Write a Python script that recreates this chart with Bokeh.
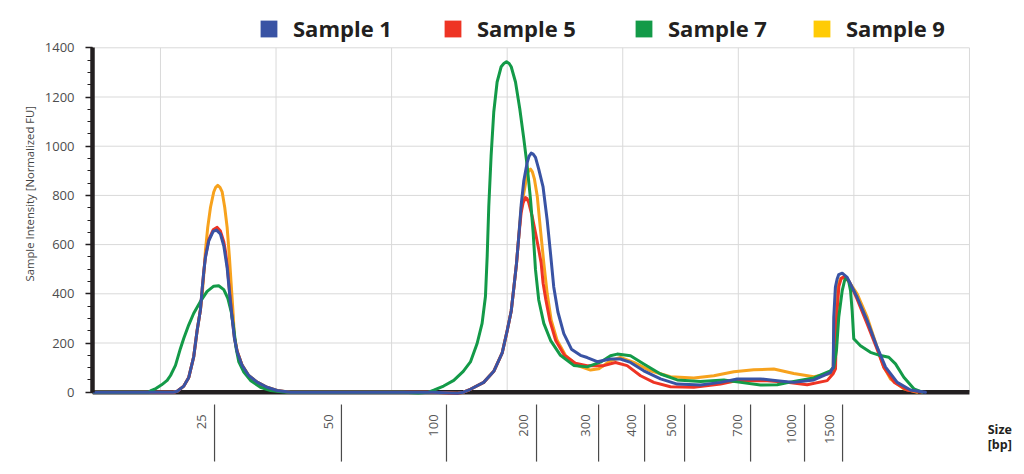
import math
from bokeh.plotting import figure
from bokeh.models import Range1d, FixedTicker, Legend, LegendItem, Title
from bokeh.embed import file_html
from bokeh.resources import INLINE
from bokeh.core.properties import value

# ---------------- data (migration position vs. normalized FU) ----------------
series_names = ["Sample 1", "Sample 5", "Sample 7", "Sample 9"]

x_s1 = [4.12, 11.12, 11.45, 12.02, 12.45, 12.88, 13.17, 13.46, 13.61, 13.75,
        13.89, 14.18, 14.56, 14.85, 15.19, 15.48, 15.77, 15.99, 16.20, 16.40,
        16.64, 17.07, 17.64, 18.37, 19.23, 20.10, 21.25,
        33.65, 35.00, 35.70, 36.22, 36.82, 37.97, 38.84, 39.57, 40.00, 40.35,
        40.59, 40.80, 41.00, 41.21, 41.44, 41.73, 41.90, 42.08, 42.25, 42.45,
        42.73, 43.10,
        43.46, 43.75, 44.03, 44.39, 44.90, 45.56, 46.34, 46.92, 47.79, 48.94,
        49.80, 50.67, 51.82, 53.27, 54.71, 56.73, 58.46, 59.90, 61.92, 63.36,
        64.80, 66.53, 67.97, 68.21, 68.26, 68.40, 68.55, 68.69, 68.99, 69.42,
        70.28, 71.15, 72.01, 72.74, 73.75, 74.90, 76.19]
y_s1 = [0, 0, 4, 25, 60, 145, 250, 335, 420, 490,
        547, 615, 654, 659, 643, 595, 506, 397, 301, 219,
        164, 109, 68, 41, 20, 7, 0,
        0, -3, -4, 0, 12, 40, 85, 160, 250, 330,
        430, 520, 630, 760, 860, 934, 960, 972, 968, 955,
        907, 836,
        700, 564, 428, 326, 238, 175, 150, 141, 124, 135,
        135, 121, 87, 54, 33, 29, 40, 54, 54, 47,
        40, 50, 80, 102, 305, 427, 460, 478, 484, 467,
        386, 291, 183, 102, 40, 9, 0]

x_s5 = [4.12, 11.12, 11.45, 12.02, 12.45, 12.88, 13.17, 13.46, 13.61, 13.75,
        13.89, 14.18, 14.56, 14.91, 15.19, 15.48, 15.62, 15.77, 15.99, 16.20,
        16.40, 16.64, 17.07, 17.64, 18.37, 19.23, 20.10, 21.25,
        33.65, 35.00, 35.70, 36.22, 36.82, 37.97, 38.84, 39.57, 40.00, 40.35,
        40.59, 40.80, 41.00, 41.21, 41.38, 41.58, 41.72, 41.87, 42.16, 42.45,
        42.73,
        42.94, 43.11, 43.35, 43.70, 44.20, 44.95, 45.90, 46.90, 47.49, 48.36,
        49.37, 50.38, 51.54, 52.69, 54.13, 56.15, 58.46, 59.90, 62.50, 64.23,
        65.96, 67.69, 68.20, 68.41, 68.50, 68.70, 68.90, 69.13, 69.60, 70.28,
        71.15, 72.01, 72.60, 73.50, 74.60, 75.90]
y_s5 = [0, 0, 4, 25, 60, 145, 250, 335, 420, 490,
        550, 620, 660, 670, 655, 612, 574, 520, 405, 305,
        222, 165, 108, 66, 40, 19, 6, 0,
        0, -3, -4, 0, 12, 40, 85, 160, 250, 330,
        430, 520, 630, 730, 770, 791, 787, 770, 716, 648,
        580,
        525, 443, 375, 290, 210, 150, 118, 108, 108, 108,
        121, 108, 67, 40, 22, 20, 33, 47, 47, 40,
        30, 47, 75, 95, 300, 430, 462, 470, 450, 378,
        278, 175, 100, 40, 9, 0]

x_s7 = [4.12, 8.96, 9.13, 9.60, 10.10, 10.58, 10.87, 11.30, 11.73, 12.02,
        12.45, 12.88, 13.46, 14.04, 14.61, 15.04, 15.48, 15.82, 16.12, 16.34,
        16.55, 16.78, 17.21, 17.79, 18.65, 19.52, 20.64, 21.25,
        31.00, 32.30, 33.20, 33.65, 34.50, 35.38, 36.20, 36.82, 37.40, 37.83,
        38.12, 38.27, 38.41, 38.61, 38.84, 39.13, 39.48, 39.71, 39.94, 40.17,
        40.35, 40.72,
        41.09, 41.44, 41.73, 42.02, 42.25, 42.45, 42.73, 43.17, 43.75, 44.61,
        45.76, 46.92, 48.07, 48.94, 49.52, 50.67, 51.82, 53.27, 54.71, 56.73,
        58.75, 60.19, 61.92, 63.36, 64.80, 66.53, 67.97, 68.26, 68.49, 68.69,
        68.99, 69.20, 69.36, 69.55, 69.71, 69.85, 69.99, 70.57, 71.43, 72.30,
        73.02, 73.60, 74.32, 75.19, 75.91]
y_s7 = [0, 0, 5, 15, 30, 48, 68, 109, 178, 219,
        274, 321, 369, 410, 431, 433, 417, 383, 328, 260,
        178, 123, 82, 48, 20, 7, 1, 0,
        0, -3, 0, 8, 25, 48, 85, 123, 198, 280,
        389, 552, 757, 961, 1139, 1261, 1323, 1336, 1343, 1336,
        1323, 1261,
        1152, 1030, 920, 784, 648, 498, 375, 280, 211, 150,
        109, 103, 122, 148, 155, 148, 115, 74, 50, 44,
        50, 40, 29, 30, 44, 58, 87, 102, 169, 305,
        413, 455, 467, 450, 413, 332, 217, 189, 162, 149,
        142, 115, 61, 14, 0]

x_s9 = [4.12, 11.12, 11.45, 12.02, 12.45, 12.88, 13.17, 13.46, 13.61, 13.75,
        13.89, 14.09, 14.33, 14.61, 14.78, 14.96, 15.15, 15.34, 15.56, 15.77,
        15.97, 16.12,
        16.26, 16.40, 16.64, 17.07, 17.64, 18.37, 19.23, 20.10, 21.25,
        33.65, 35.00, 35.70, 36.22, 36.82, 37.97, 38.84, 39.57, 40.00, 40.35,
        40.59, 40.80, 41.00, 41.21, 41.50, 41.73, 41.88, 42.02, 42.18, 42.36,
        42.60, 42.88,
        43.17, 43.46, 43.81, 44.32, 45.04, 46.05, 47.21, 47.93, 48.94, 49.80,
        50.96, 52.40, 54.13, 56.15, 57.88, 59.61, 61.34, 63.07, 64.80, 66.53,
        67.97, 68.20, 68.30, 68.55, 68.85, 69.27, 69.70, 70.28, 71.15, 72.01,
        72.59, 73.17, 74.32, 75.48]
y_s9 = [0, 0, 4, 25, 60, 145, 250, 335, 397, 479,
        574, 670, 752, 814, 833, 841, 833, 814, 752, 670,
        547, 438,
        340, 225, 166, 110, 68, 41, 20, 7, 0,
        0, -3, -4, 0, 12, 40, 85, 160, 250, 330,
        430, 520, 630, 750, 825, 886, 902, 907, 896, 866,
        798, 661,
        525, 402, 293, 211, 150, 109, 90, 95, 128, 141,
        121, 87, 63, 58, 67, 83, 91, 94, 76, 63,
        76, 90, 300, 430, 462, 467, 440, 400, 305, 183,
        102, 54, 14, 0]

ladder_labels = ["25", "50", "100", "200", "300", "400", "500", "700", "1000", "1500"]
ladder_pos = [14.68, 25.66, 34.75, 42.54, 47.91, 51.89, 55.35, 61.06, 65.73, 69.02]

y_ticks = [0, 200, 400, 600, 800, 1000, 1200, 1400]
y_minor = list(range(0, 1401, 50))
grid_x = [10, 20, 30, 40, 50, 60, 70, 80]

# ---------------- styles ----------------
line_colors = ["#3953a4", "#ee3424", "#139a48", "#f7a21d"]
legend_colors = ["#3953a4", "#ee3424", "#139a48", "#ffcb05"]
legend_left = [166, 350, 541, 719]   # screen px from the frame's left edge
INK = "#231f20"
GRID = "#d9d9d9"
X0, X1 = 4.12, 80

p = figure(width=1016, height=466,
           x_range=Range1d(4.12, 84.07), y_range=Range1d(-302, 1559.8),
           x_axis_type=None, toolbar_location=None, output_backend="svg",
           min_border_left=92, min_border_right=0, min_border_top=8, min_border_bottom=0,
           title=None)
p.outline_line_color = None
p.background_fill_color = "white"
p.border_fill_color = "white"
p.grid.visible = False

# grid lines (restricted to the data area)
p.segment(x0=grid_x, y0=0, x1=grid_x, y1=1400, line_color=GRID, line_width=1)
p.segment(x0=X0, y0=y_ticks[1:], x1=X1, y1=y_ticks[1:], line_color=GRID, line_width=1)

# baseline
p.segment(x0=[X0], y0=[0], x1=[X1], y1=[0], line_color=INK, line_width=4.5)

curves = {
    "Sample 1": (x_s1, y_s1),
    "Sample 5": (x_s5, y_s5),
    "Sample 7": (x_s7, y_s7),
    "Sample 9": (x_s9, y_s9),
}
color_of = dict(zip(series_names, line_colors))
for name in ["Sample 9", "Sample 5", "Sample 7", "Sample 1"]:
    xs, ys = curves[name]
    p.line(xs, ys, line_color=color_of[name], line_width=3, line_join="round", line_cap="round")

# size ladder under the baseline
p.segment(x0=ladder_pos, y0=-50, x1=ladder_pos, y1=-282, line_color="#4a4a4a", line_width=1.2)
p.text(x=ladder_pos, y=-90, text=ladder_labels, angle=math.pi / 2,
       text_align="right", text_baseline="middle", x_offset=-13,
       text_font=value("Open Sans"), text_font_size="13px", text_color="#555555")

p.text(x=[81.58, 81.58], y=[-151.6, -212.2], text=["Size", "[bp]"],
       text_align="left", text_baseline="alphabetic",
       text_font=value("Open Sans"), text_font_style="bold", text_font_size="12.5px",
       text_color=INK)

# y axis
ax = p.yaxis[0]
ax.bounds = (0, 1400)
ax.ticker = FixedTicker(ticks=y_ticks, minor_ticks=y_minor)
ax.axis_line_width = 4.5
ax.axis_line_color = INK
ax.major_tick_in = 0
ax.major_tick_out = 7
ax.minor_tick_in = 0
ax.minor_tick_out = 5
ax.major_tick_line_color = INK
ax.minor_tick_line_color = INK
ax.major_tick_line_width = 1.5
ax.minor_tick_line_width = 1.2
ax.major_label_standoff = 11
ax.major_label_text_font = "Open Sans"
ax.major_label_text_font_size = "13px"
ax.major_label_text_color = "#4d4d4d"

p.add_layout(Title(text="Sample Intensity [Normalized FU]", align="left", offset=185,
                   text_font="Open Sans", text_font_style="normal", text_font_size="11.3px",
                   text_color="#444444", standoff=10), "left")

# legend with square swatches, one box per entry
for name, c, lx in zip(series_names, legend_colors, legend_left):
    r = p.quad(left=[float("nan")], right=[float("nan")], top=[float("nan")],
               bottom=[float("nan")], fill_color=c, line_color=None)
    lg = Legend(items=[LegendItem(label=name, renderers=[r])], location=(lx, 423),
                glyph_width=21, glyph_height=21, label_standoff=14,
                padding=0, margin=0, border_line_color=None, background_fill_alpha=0,
                label_text_font="Open Sans", label_text_font_style="bold",
                label_text_font_size="22px", label_text_color=INK)
    p.add_layout(lg)

open("out.html", "w").write(file_html(p, INLINE))
